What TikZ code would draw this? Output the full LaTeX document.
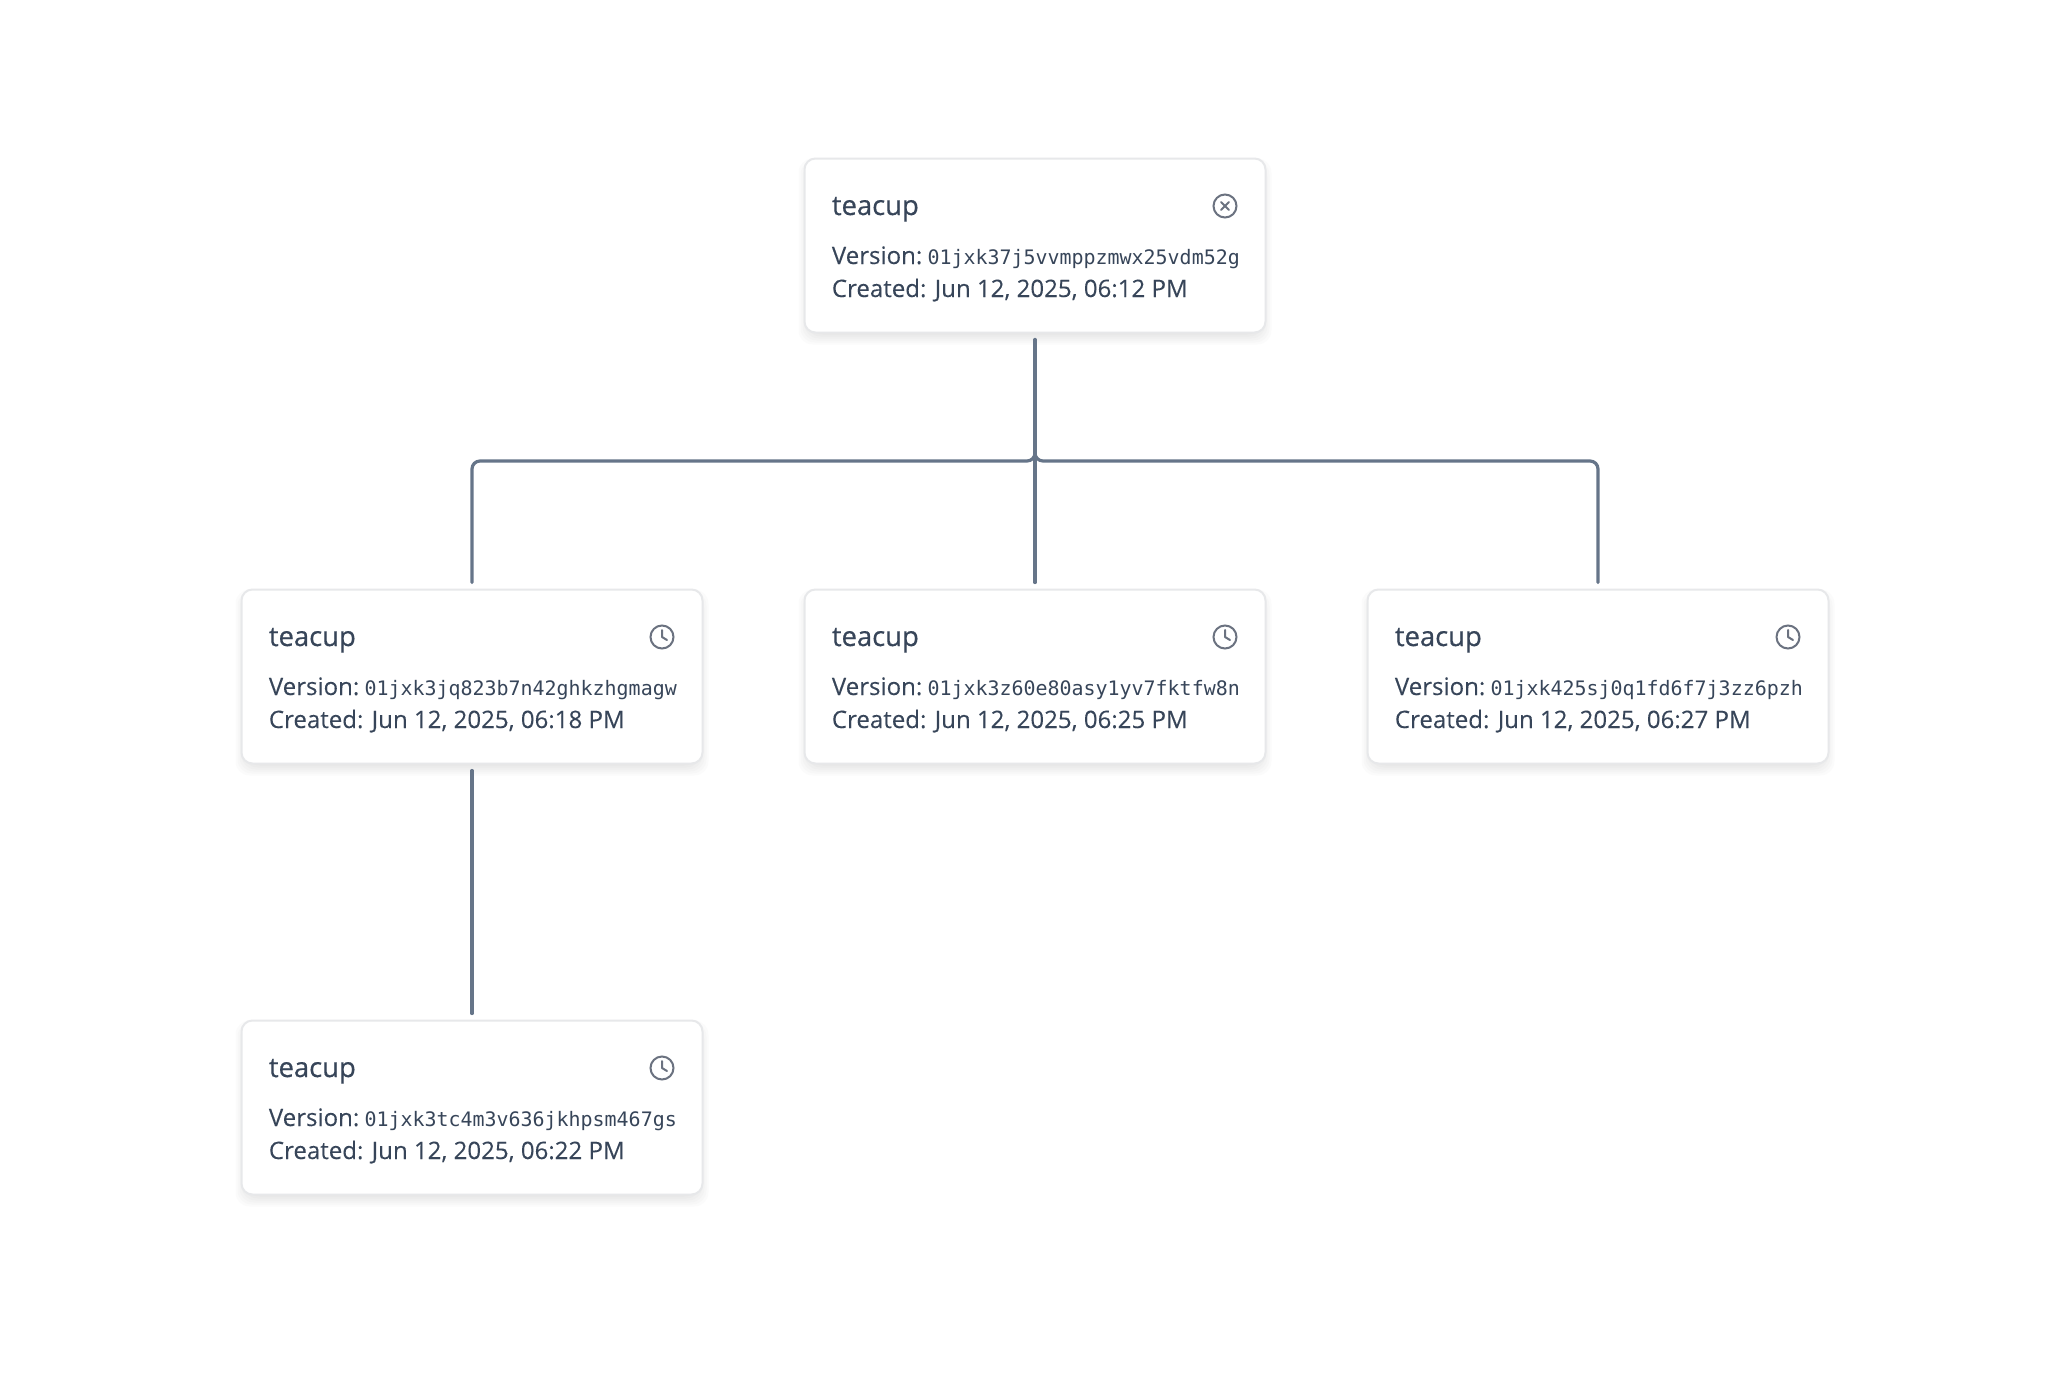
\documentclass[tikz,border=0pt]{standalone}
\usepackage{fontspec}
\setmainfont{Open Sans}[FakeBold=0.1]
\newfontfamily\monof{DejaVu Sans Mono}
\newfontfamily\titlef{Open Sans}[FakeBold=0.5]
\usetikzlibrary{calc}
\definecolor{txt}{HTML}{374559}
\definecolor{edge}{HTML}{667589}
\definecolor{icon}{HTML}{6B7280}
\definecolor{bord}{HTML}{E7E8EA}
\tikzset{
  x=0.5pt,y=-0.5pt,
  cardbox/.style={draw=bord,line width=1pt,fill=white,rounded corners=5.5pt,minimum width=230.5pt,minimum height=87pt,inner sep=0pt,outer sep=0pt},
  shadowbox/.style={fill=black,fill opacity=0.016,rounded corners=7pt,inner sep=0pt},
  title/.style={anchor=base west,inner sep=0pt,text=txt,font=\titlef\fontsize{13.7pt}{13pt}\selectfont},
  body/.style={anchor=base west,inner sep=0pt,text=txt,font=\fontsize{12.03pt}{12pt}\selectfont},
  iconmark/.style={draw=icon,line width=1pt,line cap=round,line join=round},
  conn/.style={draw=edge,line width=1.6pt,line cap=round,shorten <=3.5pt,shorten >=3.5pt},
}
\newcommand{\shadowlayers}[2]{%
  \foreach \g in {0,1,...,7}{
    \node[shadowbox,minimum width={230.5pt+2*(\g-4)*1pt},minimum height={87pt+2*(\g-4)*1pt}] at (#1,{#2+6}) {};
  }}
\newcommand{\card}[6]{% name, center x, center y, version, created, icon
  \shadowlayers{#2}{#3}
  \node[cardbox] (#1) at (#2,#3) {};
  \node[title] (#1t) at ($(#1.north west)+(27,56.5)$) {teacup};
  \node[body] (#1v) at ($(#1.north west)+(27,105.5)$) {Version: \hspace*{-1.5pt}{\monof\fontsize{9.97pt}{12pt}\selectfont #4}};
  \node[body] (#1c) at ($(#1.north west)+(27,138.5)$) {Created: #5};
  \node[draw=icon,line width=1pt,circle,minimum size=11.5pt,inner sep=0pt] (#1i) at ($(#1.north east)+(-40.5,47.5)$) {};
  #6{#1i}
}
\newcommand{\xicon}[1]{%
  \draw[iconmark] ($(#1.center)+(-4,-4)$) -- ($(#1.center)+(4,4)$);
  \draw[iconmark] ($(#1.center)+(4,-4)$) -- ($(#1.center)+(-4,4)$);}
\newcommand{\clockicon}[1]{%
  \draw[iconmark] ($(#1.center)+(0,-7)$) -- (#1.center) -- ($(#1.center)+(5,3)$);}
\begin{document}
\begin{tikzpicture}
\useasboundingbox (0,0) rectangle (2072,1398);
\fill[white] (0,0) rectangle (2072,1398);
\card{a}{1035}{245.5}{01jxk37j5vvmppzmwx25vdm52g}{Jun 12, 2025, 06:12 PM}{\xicon}
\card{b}{472}{676.5}{01jxk3jq823b7n42ghkzhgmagw}{Jun 12, 2025, 06:18 PM}{\clockicon}
\card{c}{1035}{676.5}{01jxk3z60e80asy1yv7fktfw8n}{Jun 12, 2025, 06:25 PM}{\clockicon}
\card{d}{1598}{676.5}{01jxk425sj0q1fd6f7j3zz6pzh}{Jun 12, 2025, 06:27 PM}{\clockicon}
\card{e}{472}{1107.5}{01jxk3tc4m3v636jkhpsm467gs}{Jun 12, 2025, 06:22 PM}{\clockicon}
\coordinate (bus) at (1035,461);
\draw[conn,rounded corners=4pt] (a.south) -- (a.south |- bus) -- (b.north |- bus) -- (b.north);
\draw[conn,rounded corners=4pt] (a.south) -- (a.south |- bus) -- (d.north |- bus) -- (d.north);
\draw[conn] (a.south) -- (c.north);
\draw[conn] (b.south) -- (e.north);
\end{tikzpicture}
\end{document}
